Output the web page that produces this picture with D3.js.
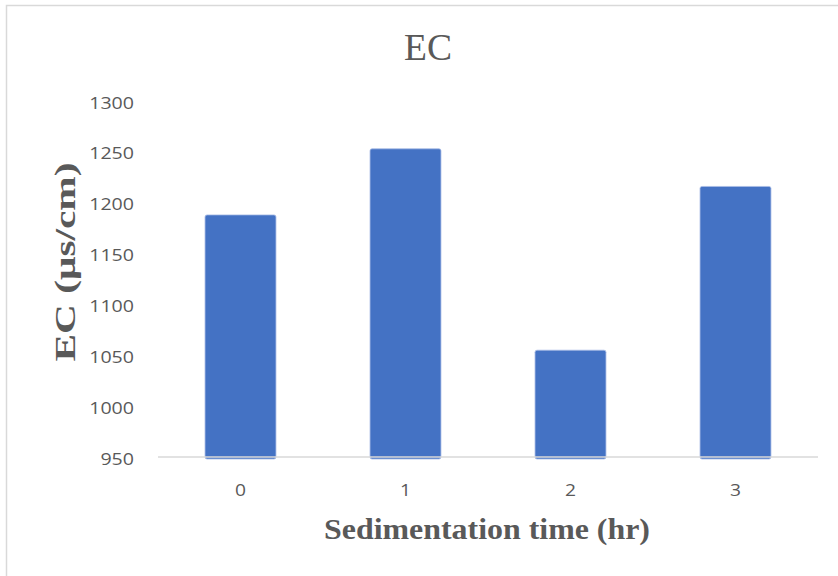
<!DOCTYPE html>
<html><head><meta charset="utf-8">
<script src="https://cdn.jsdelivr.net/npm/d3@7"></script>
<style>body{margin:0;background:#fff}svg{display:block}</style>
</head><body>
<svg id="c" width="838" height="576"></svg>
<script>
const categories = ["0", "1", "2", "3"];
const ecValues = [1188, 1253, 1055, 1216];
const yTicks = [950, 1000, 1050, 1100, 1150, 1200, 1250, 1300];

const svg = d3.select("#c");
svg.append("rect").attr("x", 6.5).attr("y", 5.5).attr("width", 840).attr("height", 580)
  .attr("fill", "#fff").attr("stroke", "#d9d9d9").attr("stroke-width", 1.5);

const x = d3.scaleBand().domain(categories).range([158, 818]).paddingInner(0.57).paddingOuter(0.285);
const y = d3.scaleLinear().domain([950, 1300]).range([457, 101]);

svg.append("g").selectAll("rect").data(ecValues).join("rect")
  .attr("x", (d, i) => x(categories[i]))
  .attr("y", d => y(d))
  .attr("width", x.bandwidth())
  .attr("height", d => y(950) - y(d) + 2)
  .attr("rx", 2)
  .attr("fill", "#4472c4").attr("stroke", "#a9bde6").attr("stroke-width", 0.8);

svg.append("line").attr("x1", 158).attr("x2", 818).attr("y1", y(950)).attr("y2", y(950))
  .attr("stroke", "#d9d9d9").attr("stroke-width", 1.5);

const yAxis = d3.axisLeft(y).tickValues(yTicks).tickSize(0).tickPadding(0).tickFormat(d3.format("d"));
const gy = svg.append("g").attr("transform", "translate(134,1)").call(yAxis);
gy.select(".domain").remove();
gy.selectAll("text").attr("font-family", "'Open Sans', sans-serif").attr("font-size", 17)
  .attr("fill", "#595959").attr("dy", "0.36em")
  .attr("textLength", function() { return this.textContent.length * 11.2; })
  .attr("lengthAdjust", "spacingAndGlyphs");

const xAxis = d3.axisBottom(x).tickSize(0).tickPadding(0);
const gx = svg.append("g").attr("transform", "translate(0,490)").call(xAxis);
gx.select(".domain").remove();
gx.selectAll("text").attr("font-family", "'Open Sans', sans-serif").attr("font-size", 17)
  .attr("fill", "#595959").attr("dy", "0.36em")
  .attr("textLength", 11).attr("lengthAdjust", "spacingAndGlyphs");

svg.append("text").attr("x", 428).attr("y", 60).attr("text-anchor", "middle")
  .attr("font-family", "'Liberation Serif', 'Times New Roman', serif").attr("font-size", 38)
  .attr("textLength", 48).attr("lengthAdjust", "spacingAndGlyphs")
  .attr("fill", "#595959").text("EC");

svg.append("text").attr("x", 487).attr("y", 539).attr("text-anchor", "middle")
  .attr("font-family", "'Liberation Serif', 'Times New Roman', serif").attr("font-size", 30)
  .attr("textLength", 326).attr("lengthAdjust", "spacingAndGlyphs")
  .attr("font-weight", "bold").attr("fill", "#595959").text("Sedimentation time (hr)");

svg.append("text").attr("transform", "translate(75,262) rotate(-90)").attr("text-anchor", "middle")
  .attr("font-family", "'Liberation Serif', 'Times New Roman', serif").attr("font-size", 30)
  .attr("textLength", 199).attr("lengthAdjust", "spacingAndGlyphs")
  .attr("font-weight", "bold").attr("fill", "#595959").text("EC (μs/cm)");
</script>
</body></html>
